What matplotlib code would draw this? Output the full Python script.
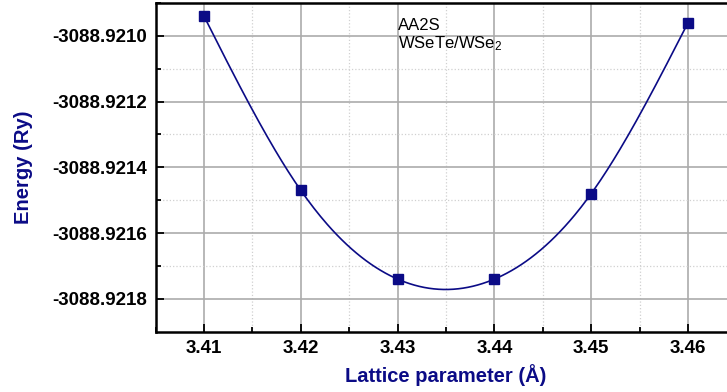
import numpy as np
import matplotlib
matplotlib.use("Agg")
import matplotlib.pyplot as plt
import matplotlib.ticker as ticker

# ===================== Data =====================
lattice = [3.41, 3.42, 3.43, 3.44, 3.45, 3.46]  # Angstrom
energy = [-3088.92094, -3088.92147, -3088.92174, -3088.92174, -3088.92148, -3088.92096]  # Ry

label_system = "AA2S"
label_material = "WSeTe/WSe$_2$"


def natural_spline(x, y, n=300):
    """Natural cubic spline through (x, y), sampled on n points."""
    x = np.asarray(x, float)
    y = np.asarray(y, float)
    y0 = y.mean()
    y = y - y0
    k = len(x)
    h = np.diff(x)
    A = np.zeros((k, k))
    b = np.zeros(k)
    A[0, 0] = A[-1, -1] = 1.0
    for i in range(1, k - 1):
        A[i, i - 1] = h[i - 1]
        A[i, i] = 2 * (h[i - 1] + h[i])
        A[i, i + 1] = h[i]
        b[i] = 6 * ((y[i + 1] - y[i]) / h[i] - (y[i] - y[i - 1]) / h[i - 1])
    M = np.linalg.solve(A, b)
    xs = np.linspace(x[0], x[-1], n)
    idx = np.clip(np.searchsorted(x, xs) - 1, 0, k - 2)
    x0, x1 = x[idx], x[idx + 1]
    hh = x1 - x0
    t0, t1 = x1 - xs, xs - x0
    ys = (M[idx] * t0 ** 3 + M[idx + 1] * t1 ** 3) / (6 * hh) \
        + (y[idx] / hh - M[idx] * hh / 6) * t0 \
        + (y[idx + 1] / hh - M[idx + 1] * hh / 6) * t1
    return xs, ys + y0


# ===================== Plot =====================
plt.rcParams.update({
    "font.family": "Liberation Sans",
    "mathtext.fontset": "custom",
    "mathtext.rm": "Liberation Sans",
    "mathtext.default": "regular",
})

navy = "#0b0b86"

fig = plt.figure(figsize=(7.27, 3.92), dpi=100)
ax = fig.add_axes([155.6 / 727, 1 - 331.7 / 392, 580.8 / 727, 328.7 / 392])

xs, ys = natural_spline(lattice, energy)
ax.plot(xs, ys, color=navy, lw=1.2, zorder=3)
ax.plot(lattice, energy, ls="none", marker="s", ms=6.5, color=navy, zorder=4)

ax.set_xlim(3.405, 3.465)
ax.set_ylim(-3088.9219, -3088.9209)

ax.xaxis.set_major_locator(ticker.MultipleLocator(0.01))
ax.xaxis.set_minor_locator(ticker.MultipleLocator(0.005))
ax.yaxis.set_major_locator(ticker.MultipleLocator(0.0002))
ax.yaxis.set_minor_locator(ticker.MultipleLocator(0.0001))
ax.xaxis.set_major_formatter(ticker.FormatStrFormatter("%.2f"))
ax.yaxis.set_major_formatter(ticker.FormatStrFormatter("%.4f"))

ax.grid(True, which="major", color="#ababab", lw=1.2, ls="-")
ax.grid(True, which="minor", color="#d0d0d0", lw=0.9, ls=":")
ax.set_axisbelow(True)

ax.tick_params(which="both", direction="in", colors="black", width=1.3)
ax.tick_params(which="major", length=6, labelsize=13.5, pad=6)
ax.tick_params(which="minor", length=3.5)
for lbl in ax.get_xticklabels() + ax.get_yticklabels():
    lbl.set_fontweight("bold")

for side in ("left", "bottom", "top"):
    ax.spines[side].set_linewidth(1.8)
    ax.spines[side].set_color("black")
ax.spines["right"].set_visible(False)

ax.set_xlabel("Lattice parameter (Å)", fontsize=14.5, fontweight="bold", color=navy, labelpad=5)
ax.set_ylabel("Energy (Ry)", fontsize=14.5, fontweight="bold", color=navy, labelpad=14)

ax.text(3.43, -3088.920982, label_system, fontsize=12, color="black", va="baseline", ha="left")
ax.text(3.43, -3088.921037, label_material, fontsize=12, color="black", va="baseline", ha="left")

fig.savefig("out.png", dpi=100)
